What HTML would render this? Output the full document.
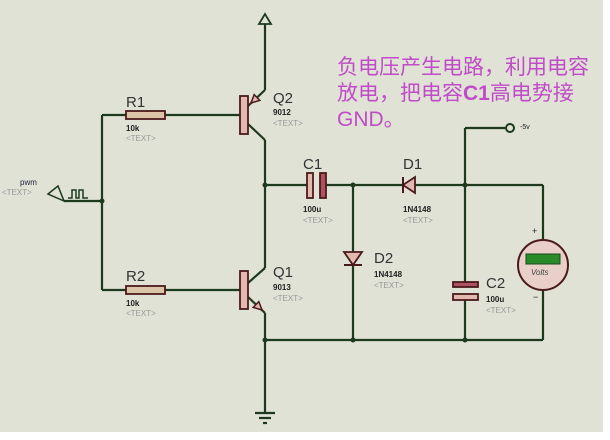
<!DOCTYPE html>
<html><head><meta charset="utf-8"><style>
html,body{margin:0;padding:0;background:#fff;}
body{width:610px;height:440px;overflow:hidden;position:relative;}
.t{position:absolute;font-family:"Liberation Sans",sans-serif;white-space:nowrap;}
.cn{position:absolute;left:337px;font-family:"Liberation Sans","Noto Sans CJK SC",sans-serif;font-size:21px;color:#c04cc8;line-height:26px;white-space:nowrap;}
</style></head><body>
<svg width="610" height="440" style="position:absolute;left:0;top:0">
<rect x="0" y="0" width="603" height="432" fill="#dfe2d5"/>
<g stroke="#1e3a1e" stroke-width="2.2" fill="none">
<line x1="265" y1="20" x2="265" y2="90"/>
<polygon points="265,14 259,24 271,24" fill="#dfe2d5" stroke-width="1.8"/>
<line x1="248" y1="106" x2="265" y2="90"/>
<line x1="248" y1="124" x2="265" y2="140"/>
<line x1="265" y1="140" x2="265" y2="268"/>
<line x1="102" y1="115" x2="126" y2="115"/>
<line x1="165" y1="115" x2="240" y2="115"/>
<line x1="102" y1="115" x2="102" y2="290"/>
<line x1="102" y1="290" x2="126" y2="290"/>
<line x1="165" y1="290" x2="240" y2="290"/>
<line x1="64" y1="201" x2="102" y2="201"/>
<line x1="248" y1="283" x2="265" y2="268"/>
<line x1="248" y1="297" x2="265" y2="313"/>
<line x1="265" y1="313" x2="265" y2="412"/>
<line x1="265" y1="185" x2="307" y2="185"/>
<line x1="326" y1="185" x2="403" y2="185"/>
<line x1="403" y1="185" x2="543" y2="185"/>
<line x1="353" y1="185" x2="353" y2="340"/>
<line x1="265" y1="340" x2="543" y2="340"/>
<line x1="465" y1="128" x2="465" y2="282"/>
<line x1="465" y1="300" x2="465" y2="340"/>
<line x1="465" y1="128" x2="505" y2="128"/>
<line x1="543" y1="185" x2="543" y2="240"/>
<line x1="543" y1="290" x2="543" y2="340"/>
<line x1="255" y1="413" x2="275" y2="413"/>
<line x1="259" y1="418" x2="271" y2="418"/>
<line x1="263" y1="423" x2="267" y2="423"/>
</g>
<g fill="#1e3a1e">
<circle cx="102" cy="201" r="2.5"/><circle cx="265" cy="185" r="2.5"/><circle cx="353" cy="185" r="2.5"/>
<circle cx="465" cy="185" r="2.5"/><circle cx="265" cy="340" r="2.5"/><circle cx="353" cy="340" r="2.5"/><circle cx="465" cy="340" r="2.5"/>
</g>
<g fill="#e3b8b0" stroke="#4a1a1a" stroke-width="1.8">
<rect x="240" y="96" width="8" height="38"/>
<rect x="240" y="271" width="8" height="38"/>
<rect x="126" y="111" width="39" height="8" fill="#dcc4a8"/>
<rect x="126" y="286" width="39" height="8" fill="#dcc4a8"/>
<rect x="307" y="173" width="6" height="25"/>
<rect x="320" y="173" width="6" height="25" fill="#b05060"/>
<rect x="453" y="282" width="25" height="5" fill="#b05060"/>
<rect x="453" y="294" width="25" height="6"/>
</g>
<polygon points="251,103 259.8,100.4 254.2,94.6" fill="#e3b8b0" stroke="#4a1a1a" stroke-width="1.5"/>
<polygon points="262,310 253.2,307.4 258.8,301.6" fill="#e3b8b0" stroke="#4a1a1a" stroke-width="1.5"/>
<polygon points="415,177 415,193 403,185" fill="#e3b8b0" stroke="#4a1a1a" stroke-width="1.8"/>
<line x1="403" y1="177" x2="403" y2="193" stroke="#4a1a1a" stroke-width="2"/>
<polygon points="344,252 362,252 353,265" fill="#e3b8b0" stroke="#4a1a1a" stroke-width="1.8"/>
<line x1="344" y1="265" x2="362" y2="265" stroke="#4a1a1a" stroke-width="2"/>
<circle cx="510" cy="128" r="4" fill="#dfe2d5" stroke="#1e3a1e" stroke-width="2"/>
<circle cx="543" cy="265" r="25" fill="#e8d0c8" stroke="#4a1a1a" stroke-width="2"/>
<rect x="526" y="254" width="34" height="10" fill="#2a8a2a" stroke="#1a4a1a"/>
<polygon points="48,194 58,186 64,201" fill="none" stroke="#1e3a1e" stroke-width="1.5"/>
<polyline points="68,198 72,198 72,190 76,190 76,198 79,198 79,190 83,190 83,198 88,198" fill="none" stroke="#1e3a1e" stroke-width="1.5"/>
</svg>
<div class="t" style="left:126px;top:94px;font-size:15px;color:#333">R1</div>
<div class="t" style="left:126px;top:124px;font-size:8px;font-weight:bold;color:#222">10k</div>
<div class="t" style="left:126px;top:134px;font-size:8px;color:#999">&lt;TEXT&gt;</div>
<div class="t" style="left:126px;top:268px;font-size:15px;color:#333">R2</div>
<div class="t" style="left:126px;top:299px;font-size:8px;font-weight:bold;color:#222">10k</div>
<div class="t" style="left:126px;top:309px;font-size:8px;color:#999">&lt;TEXT&gt;</div>
<div class="t" style="left:273px;top:90px;font-size:15px;color:#333">Q2</div>
<div class="t" style="left:273px;top:108px;font-size:8px;font-weight:bold;color:#222">9012</div>
<div class="t" style="left:273px;top:119px;font-size:8px;color:#999">&lt;TEXT&gt;</div>
<div class="t" style="left:273px;top:264px;font-size:15px;color:#333">Q1</div>
<div class="t" style="left:273px;top:283px;font-size:8px;font-weight:bold;color:#222">9013</div>
<div class="t" style="left:273px;top:294px;font-size:8px;color:#999">&lt;TEXT&gt;</div>
<div class="t" style="left:303px;top:156px;font-size:15px;color:#333">C1</div>
<div class="t" style="left:303px;top:205px;font-size:8px;font-weight:bold;color:#222">100u</div>
<div class="t" style="left:303px;top:216px;font-size:8px;color:#999">&lt;TEXT&gt;</div>
<div class="t" style="left:403px;top:156px;font-size:15px;color:#333">D1</div>
<div class="t" style="left:403px;top:205px;font-size:8px;font-weight:bold;color:#222">1N4148</div>
<div class="t" style="left:403px;top:216px;font-size:8px;color:#999">&lt;TEXT&gt;</div>
<div class="t" style="left:374px;top:250px;font-size:15px;color:#333">D2</div>
<div class="t" style="left:374px;top:270px;font-size:8px;font-weight:bold;color:#222">1N4148</div>
<div class="t" style="left:374px;top:281px;font-size:8px;color:#999">&lt;TEXT&gt;</div>
<div class="t" style="left:486px;top:275px;font-size:15px;color:#333">C2</div>
<div class="t" style="left:486px;top:295px;font-size:8px;font-weight:bold;color:#222">100u</div>
<div class="t" style="left:486px;top:306px;font-size:8px;color:#999">&lt;TEXT&gt;</div>
<div class="t" style="left:520px;top:124px;font-size:7px;color:#222">-5v</div>
<div class="t" style="left:532px;top:226px;font-size:9px;color:#222">+</div>
<div class="t" style="left:533px;top:292px;font-size:9px;color:#222">−</div>
<div class="t" style="left:531px;top:268px;font-size:8px;font-style:italic;color:#444">Volts</div>
<div class="t" style="left:20px;top:178px;font-size:8px;color:#224">pwm</div>
<div class="t" style="left:2px;top:188px;font-size:8px;color:#999">&lt;TEXT&gt;</div>
<div class="cn" style="top:55px">负电压产生电路，利用电容</div>
<div class="cn" style="top:81px">放电，把电容<b>C1</b>高电势接</div>
<div class="cn" style="top:107px">GND。</div>
</body></html>
